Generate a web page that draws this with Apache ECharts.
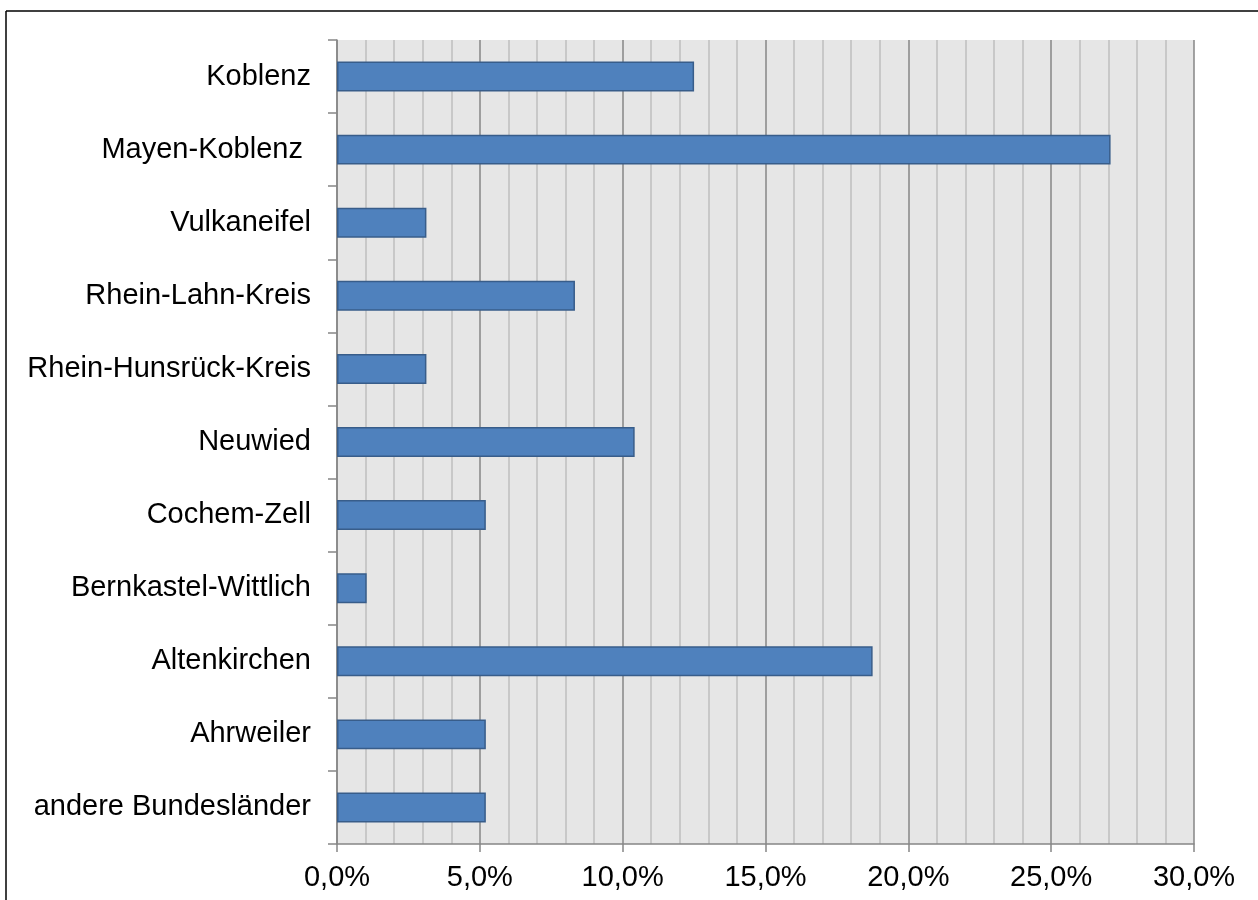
<!DOCTYPE html>
<html>
<head>
<meta charset="utf-8">
<script src="https://cdn.jsdelivr.net/npm/echarts@6/dist/echarts.min.js"></script>
<style>
  html, body { margin: 0; padding: 0; background: #ffffff; }
  #chart { width: 1258px; height: 900px; }
</style>
</head>
<body>
<div id="chart"></div>
<script>
// Districts, listed top to bottom
const categories = [
  'Koblenz',
  'Mayen-Koblenz ',
  'Vulkaneifel',
  'Rhein-Lahn-Kreis',
  'Rhein-Hunsrück-Kreis',
  'Neuwied',
  'Cochem-Zell',
  'Bernkastel-Wittlich',
  'Altenkirchen',
  'Ahrweiler',
  'andere Bundesländer'
];

// Share per district in percent
const shares = [12.5, 27.08, 3.13, 8.33, 3.13, 10.42, 5.21, 1.04, 18.75, 5.21, 5.21];

// Value axis range and label step
const axisMin = 0;
const axisMax = 30;
const axisStep = 5;

const chart = echarts.init(document.getElementById('chart'), null, { renderer: 'canvas' });

const fontFamily = 'Liberation Sans, Arial, sans-serif';

chart.setOption({
  animation: false,
  graphic: [
    { type: 'line', shape: { x1: 6, y1: 11, x2: 1262, y2: 11 }, style: { stroke: '#000', lineWidth: 1.5 } },
    { type: 'line', shape: { x1: 6, y1: 11, x2: 6, y2: 905 }, style: { stroke: '#000', lineWidth: 1.5 } }
  ],
  grid: {
    left: 337, right: 64, top: 40, bottom: 56,
    show: true, backgroundColor: '#e6e6e6', borderWidth: 0
  },
  xAxis: {
    type: 'value',
    min: axisMin, max: axisMax, interval: axisStep,
    axisLine: { show: true, lineStyle: { color: '#868686', width: 1.5 } },
    axisTick: { show: true, length: 8, lineStyle: { color: '#868686', width: 1.5 } },
    minorTick: { show: false, splitNumber: 5 },
    splitLine: { show: true, lineStyle: { color: '#868686', width: 1.5 } },
    minorSplitLine: { show: true, lineStyle: { color: '#bfbfbf', width: 1.5 } },
    axisLabel: {
      color: '#000', fontSize: 29, fontFamily: fontFamily, margin: 19,
      formatter: v => v.toFixed(1).replace('.', ',') + '%'
    }
  },
  yAxis: {
    type: 'category',
    data: categories,
    inverse: true,
    axisLine: { show: true, lineStyle: { color: '#868686', width: 1.5 } },
    axisTick: { show: true, length: 9, alignWithLabel: false, lineStyle: { color: '#868686', width: 1.5 } },
    splitLine: { show: false },
    axisLabel: { color: '#000', fontSize: 29, fontFamily: fontFamily, margin: 26 }
  },
  series: [{
    type: 'bar',
    data: shares,
    barWidth: '41%',
    itemStyle: { color: '#4f81bd', borderColor: '#385d8a', borderWidth: 1.5 },
    emphasis: { disabled: true }
  }]
});
</script>
</body>
</html>
